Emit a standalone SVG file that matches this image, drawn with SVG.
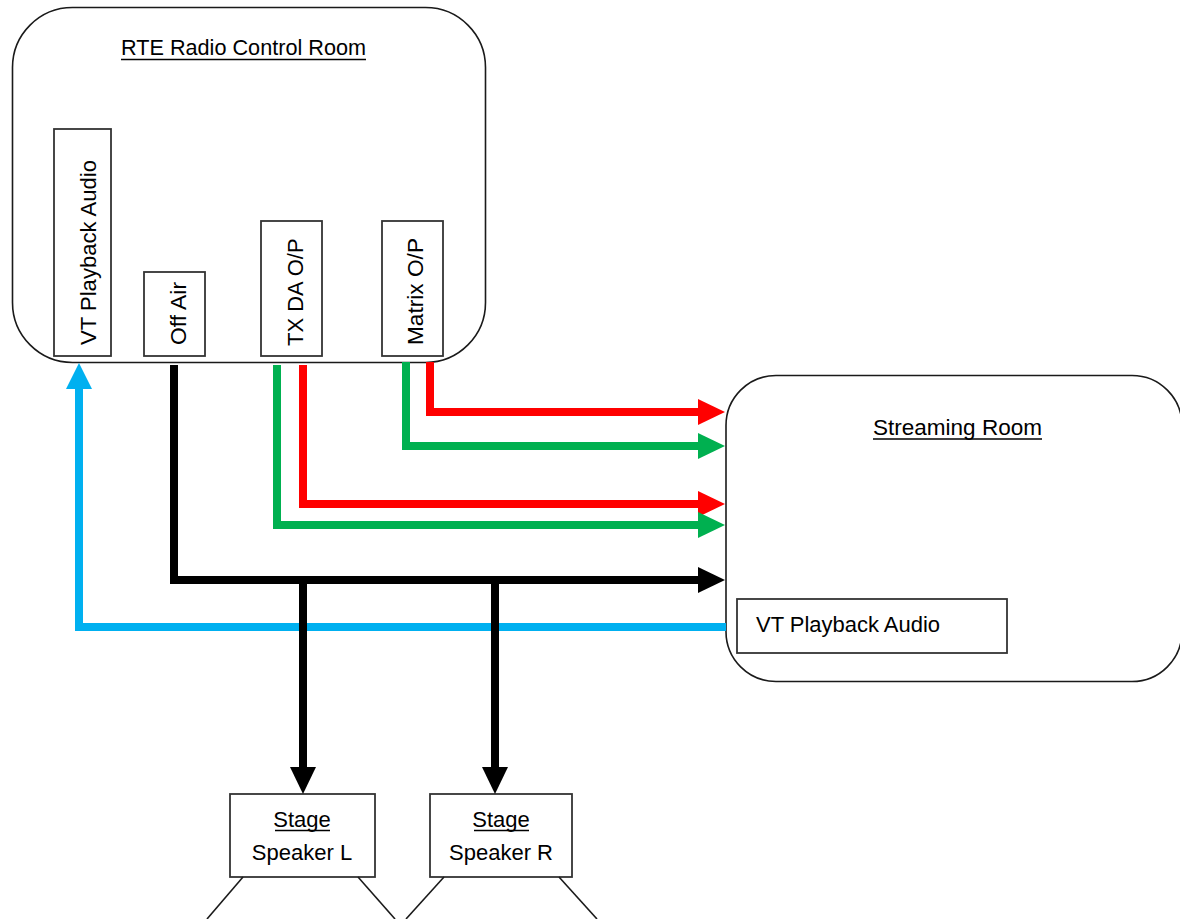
<svg xmlns="http://www.w3.org/2000/svg" width="1180" height="919" viewBox="0 0 1180 919">
<defs>
<style>
.room{fill:#fff;stroke:#1a1a1a;stroke-width:1.6}
.box{fill:#fff;stroke:#333;stroke-width:1.8}
.t{font-family:"Liberation Sans",Arial,sans-serif;font-size:22px;fill:#000}
.ul{stroke:#000;stroke-width:1.6}
.w{fill:none;stroke-width:8;stroke-linejoin:miter}
.cone{stroke:#1a1a1a;stroke-width:1.6}
</style>
<marker id="aR" markerUnits="userSpaceOnUse" markerWidth="28" markerHeight="28" refX="0" refY="13" orient="auto"><path d="M0,0 L27,13 L0,26 z" fill="#FF0000"/></marker>
<marker id="aG" markerUnits="userSpaceOnUse" markerWidth="28" markerHeight="28" refX="0" refY="13" orient="auto"><path d="M0,0 L27,13 L0,26 z" fill="#00B050"/></marker>
<marker id="aK" markerUnits="userSpaceOnUse" markerWidth="28" markerHeight="28" refX="0" refY="13" orient="auto"><path d="M0,0 L27,13 L0,26 z" fill="#000"/></marker>
<marker id="aB" markerUnits="userSpaceOnUse" markerWidth="28" markerHeight="28" refX="0" refY="13" orient="auto"><path d="M0,0 L26,13 L0,26 z" fill="#00B0F0"/></marker>
</defs>
<rect width="1180" height="919" fill="#fff"/>

<g id="control-room">
<rect class="room" x="12.5" y="7.5" width="473" height="355" rx="60" ry="60"/>
<text class="t" x="121" y="55" textLength="245" lengthAdjust="spacingAndGlyphs">RTE Radio Control Room</text>
<line class="ul" x1="121" y1="59.5" x2="366" y2="59.5"/>
</g>

<g id="vt-playback-control">
<rect class="box" x="54" y="129" width="57" height="227"/>
<text class="t" x="96" y="345" transform="rotate(-90 96 345)" textLength="185" lengthAdjust="spacingAndGlyphs">VT Playback Audio</text>
</g>
<g id="off-air">
<rect class="box" x="144" y="272" width="61" height="84"/>
<text class="t" x="186" y="345" transform="rotate(-90 186 345)" textLength="63" lengthAdjust="spacingAndGlyphs">Off Air</text>
</g>
<g id="tx-da-op">
<rect class="box" x="261" y="221" width="61" height="135"/>
<text class="t" x="303" y="346" transform="rotate(-90 303 346)">TX DA O/P</text>
</g>
<g id="matrix-op">
<rect class="box" x="382" y="221" width="61" height="135"/>
<text class="t" x="423" y="345" transform="rotate(-90 423 345)" textLength="107" lengthAdjust="spacingAndGlyphs">Matrix O/P</text>
</g>

<g id="streaming-room">
<rect class="room" x="726" y="375.5" width="456" height="306" rx="50" ry="50"/>
<text class="t" x="873" y="435" textLength="169" lengthAdjust="spacingAndGlyphs">Streaming Room</text>
<line class="ul" x1="873" y1="439" x2="1042" y2="439"/>
</g>
<g id="vt-playback-streaming">
<rect class="box" x="737" y="599" width="270" height="54"/>
<text class="t" x="756" y="632" textLength="184" lengthAdjust="spacingAndGlyphs">VT Playback Audio</text>
</g>

<g id="speaker-l">
<rect class="box" x="230" y="794" width="145" height="83"/>
<text class="t" x="302" y="827" text-anchor="middle">Stage</text>
<line class="ul" x1="275" y1="830.5" x2="330" y2="830.5"/>
<text class="t" x="302" y="860" text-anchor="middle">Speaker L</text>
<line class="cone" x1="243" y1="877" x2="207" y2="919"/>
<line class="cone" x1="358" y1="877" x2="395" y2="919"/>
</g>
<g id="speaker-r">
<rect class="box" x="430" y="794" width="142" height="83"/>
<text class="t" x="501" y="827" text-anchor="middle">Stage</text>
<line class="ul" x1="474" y1="830.5" x2="529" y2="830.5"/>
<text class="t" x="501" y="860" text-anchor="middle">Speaker R</text>
<line class="cone" x1="444" y1="877" x2="406" y2="919"/>
<line class="cone" x1="559" y1="877" x2="597" y2="919"/>
</g>

<g id="connectors">
<path class="w" stroke="#00B0F0" d="M726,627 H79 V389" marker-end="url(#aB)"/>
<path class="w" stroke="#FF0000" d="M430,362 V412 H698" marker-end="url(#aR)"/>
<path class="w" stroke="#00B050" d="M406,362 V446 H698" marker-end="url(#aG)"/>
<path class="w" stroke="#FF0000" d="M303,365 V504 H698" marker-end="url(#aR)"/>
<path class="w" stroke="#00B050" d="M277,365 V525 H698" marker-end="url(#aG)"/>
<path class="w" stroke="#000" d="M174,365 V580 H698" marker-end="url(#aK)"/>
<path class="w" stroke="#000" d="M303,580 V767" marker-end="url(#aK)"/>
<path class="w" stroke="#000" d="M495,580 V767" marker-end="url(#aK)"/>
</g>
</svg>
